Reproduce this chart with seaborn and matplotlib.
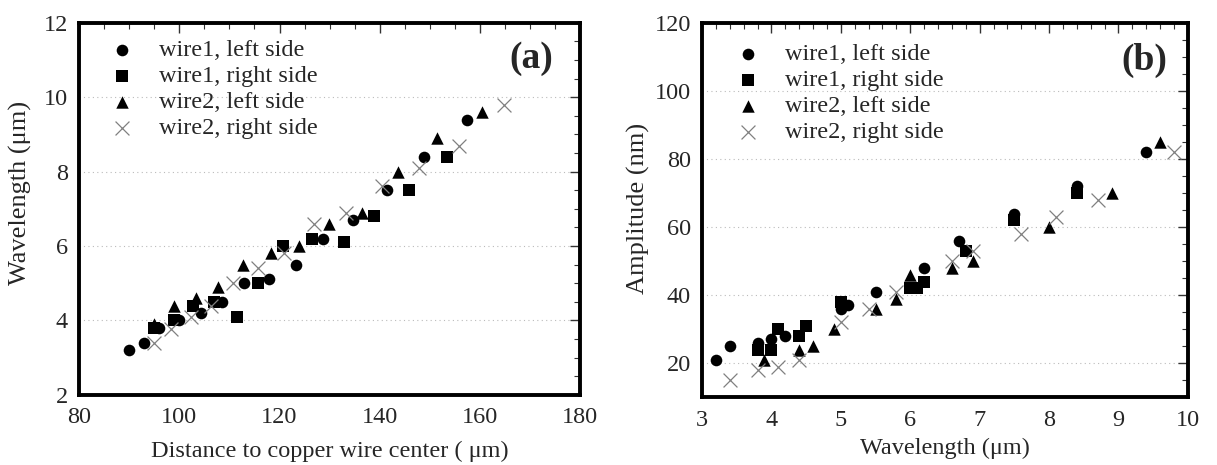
import matplotlib
matplotlib.use("Agg")
import matplotlib.pyplot as plt
from matplotlib.ticker import MultipleLocator
import pandas as pd
import seaborn as sns

series_names = ["wire1, left side", "wire1, right side",
                "wire2, left side", "wire2, right side"]

# panel (a): distance to wire center (um) -> wavelength (um)
a_w1_left_x = [90, 93, 96, 100, 104.3, 108.5, 113, 118, 123.2, 128.7, 134.7, 141.4, 148.9, 157.4]
a_w1_left_y = [3.2, 3.4, 3.8, 4.0, 4.2, 4.5, 5.0, 5.1, 5.5, 6.2, 6.7, 7.5, 8.4, 9.4]
a_w1_right_x = [95, 99, 102.7, 107, 111.6, 115.8, 120.7, 126.5, 132.9, 138.9, 145.8, 153.4]
a_w1_right_y = [3.8, 4.0, 4.4, 4.5, 4.1, 5.0, 6.0, 6.2, 6.1, 6.8, 7.5, 8.4]
a_w2_left_x = [95, 99, 103.3, 107.8, 112.7, 118.2, 123.8, 129.9, 136.5, 143.6, 151.5, 160.5]
a_w2_left_y = [3.9, 4.4, 4.6, 4.9, 5.5, 5.8, 6.0, 6.6, 6.9, 8.0, 8.9, 9.6]
a_w2_right_x = [95, 98.3, 102.3, 106.3, 110.7, 115.8, 120.8, 126.9, 133.2, 140.4, 147.9, 155.9, 164.8]
a_w2_right_y = [3.4, 3.76, 4.1, 4.4, 5.0, 5.4, 5.8, 6.6, 6.9, 7.6, 8.1, 8.7, 9.8]

# panel (b): wavelength (um) -> amplitude (nm)
b_w1_left_x = [3.2, 3.4, 3.8, 4.0, 4.2, 5.0, 5.1, 5.5, 6.2, 6.7, 7.5, 8.4, 9.4]
b_w1_left_y = [21, 25, 26, 27, 28, 36, 37, 41, 48, 56, 64, 72, 82]
b_w1_right_x = [3.8, 4.0, 4.1, 4.4, 4.5, 5.0, 6.0, 6.1, 6.2, 6.8, 7.5, 8.4]
b_w1_right_y = [24, 24, 30, 28, 31, 38, 42, 42, 44, 53, 62, 70]
b_w2_left_x = [3.9, 4.4, 4.6, 4.9, 5.5, 5.8, 6.0, 6.6, 6.9, 8.0, 8.9, 9.6]
b_w2_left_y = [21, 24, 25, 30, 36, 39, 46, 48, 50, 60, 70, 85]
b_w2_right_x = [3.4, 3.8, 4.1, 4.4, 5.0, 5.4, 5.8, 6.6, 6.9, 7.6, 8.1, 8.7, 9.8]
b_w2_right_y = [15, 18, 19, 21, 32, 36, 41, 50, 53, 58, 63, 68, 82]

sns.set_style("white")
plt.rcParams["font.family"] = ["Liberation Serif", "DejaVu Serif"]

styles = {
    "wire1, left side": dict(marker="o", color="black", s=70, linewidth=0),
    "wire1, right side": dict(marker="s", color="black", s=65, linewidth=0),
    "wire2, left side": dict(marker="^", color="black", s=80, linewidth=0),
    "wire2, right side": dict(marker="x", color="#808080", s=100, linewidth=0.9),
}

panel_a = [(a_w1_left_x, a_w1_left_y), (a_w1_right_x, a_w1_right_y),
           (a_w2_left_x, a_w2_left_y), (a_w2_right_x, a_w2_right_y)]
panel_b = [(b_w1_left_x, b_w1_left_y), (b_w1_right_x, b_w1_right_y),
           (b_w2_left_x, b_w2_left_y), (b_w2_right_x, b_w2_right_y)]

fig = plt.figure(figsize=(12.17, 4.65), dpi=100)
ax_a = fig.add_axes([0.065, 0.151, 0.4117, 0.80])
ax_b = fig.add_axes([0.5768, 0.146, 0.3993, 0.804])


def draw(ax, data):
    for name, (xs, ys) in zip(series_names, data):
        df = pd.DataFrame({"x": xs, "y": ys})
        sns.scatterplot(data=df, x="x", y="y", ax=ax, label=name, **styles[name])


def style_axes(ax, xlim, ylim, xmaj, xmin, ymaj, ymin, tag, tag_xy, leg_xy):
    ax.set_xlim(*xlim)
    ax.set_ylim(*ylim)
    ax.xaxis.set_major_locator(MultipleLocator(xmaj))
    ax.xaxis.set_minor_locator(MultipleLocator(xmin))
    ax.yaxis.set_major_locator(MultipleLocator(ymaj))
    ax.yaxis.set_minor_locator(MultipleLocator(ymin))
    ax.tick_params(which="both", direction="in", top=True, right=True,
                   labelsize=17.5, color="#333333")
    ax.tick_params(which="major", length=7, width=1)
    ax.tick_params(which="minor", length=4, width=0.8)
    ax.tick_params(axis="x", which="major", pad=9)
    ax.tick_params(axis="y", which="major", pad=8)
    ax.yaxis.grid(True, which="major", linestyle=(0, (1, 3)), color="#bbbbbb", linewidth=0.8)
    for sp in ax.spines.values():
        sp.set_linewidth(2.8)
        sp.set_color("black")
    ax.text(tag_xy[0], tag_xy[1], tag, transform=ax.transAxes, ha="right", va="center",
            fontsize=27, fontweight="bold")
    ax.legend(loc="upper left", frameon=False, fontsize=17.5,
              handlelength=1.0, handletextpad=1.0, labelspacing=0.16,
              borderaxespad=0.0, bbox_to_anchor=leg_xy)


draw(ax_a, panel_a)
style_axes(ax_a, (80, 180), (2, 12), 20, 5, 2, 0.5, "(a)", (0.946, 0.905), (0.0425, 0.982))
ax_a.set_xlabel("Distance to copper wire center ( μm)", fontsize=17.5, labelpad=9)
ax_a.set_ylabel("Wavelength (μm)", fontsize=19)
ax_a.yaxis.set_label_coords(-0.094, 0.543)

draw(ax_b, panel_b)
style_axes(ax_b, (3, 10), (10, 120), 1, 0.2, 20, 5, "(b)", (0.957, 0.9), (0.05, 0.972))
ax_b.set_xlabel("Wavelength (μm)", fontsize=17.5, labelpad=5)
ax_b.set_ylabel("Amplitude (nm)", fontsize=19)
ax_b.yaxis.set_label_coords(-0.107, 0.505)

fig.savefig("out.png", dpi=100)
